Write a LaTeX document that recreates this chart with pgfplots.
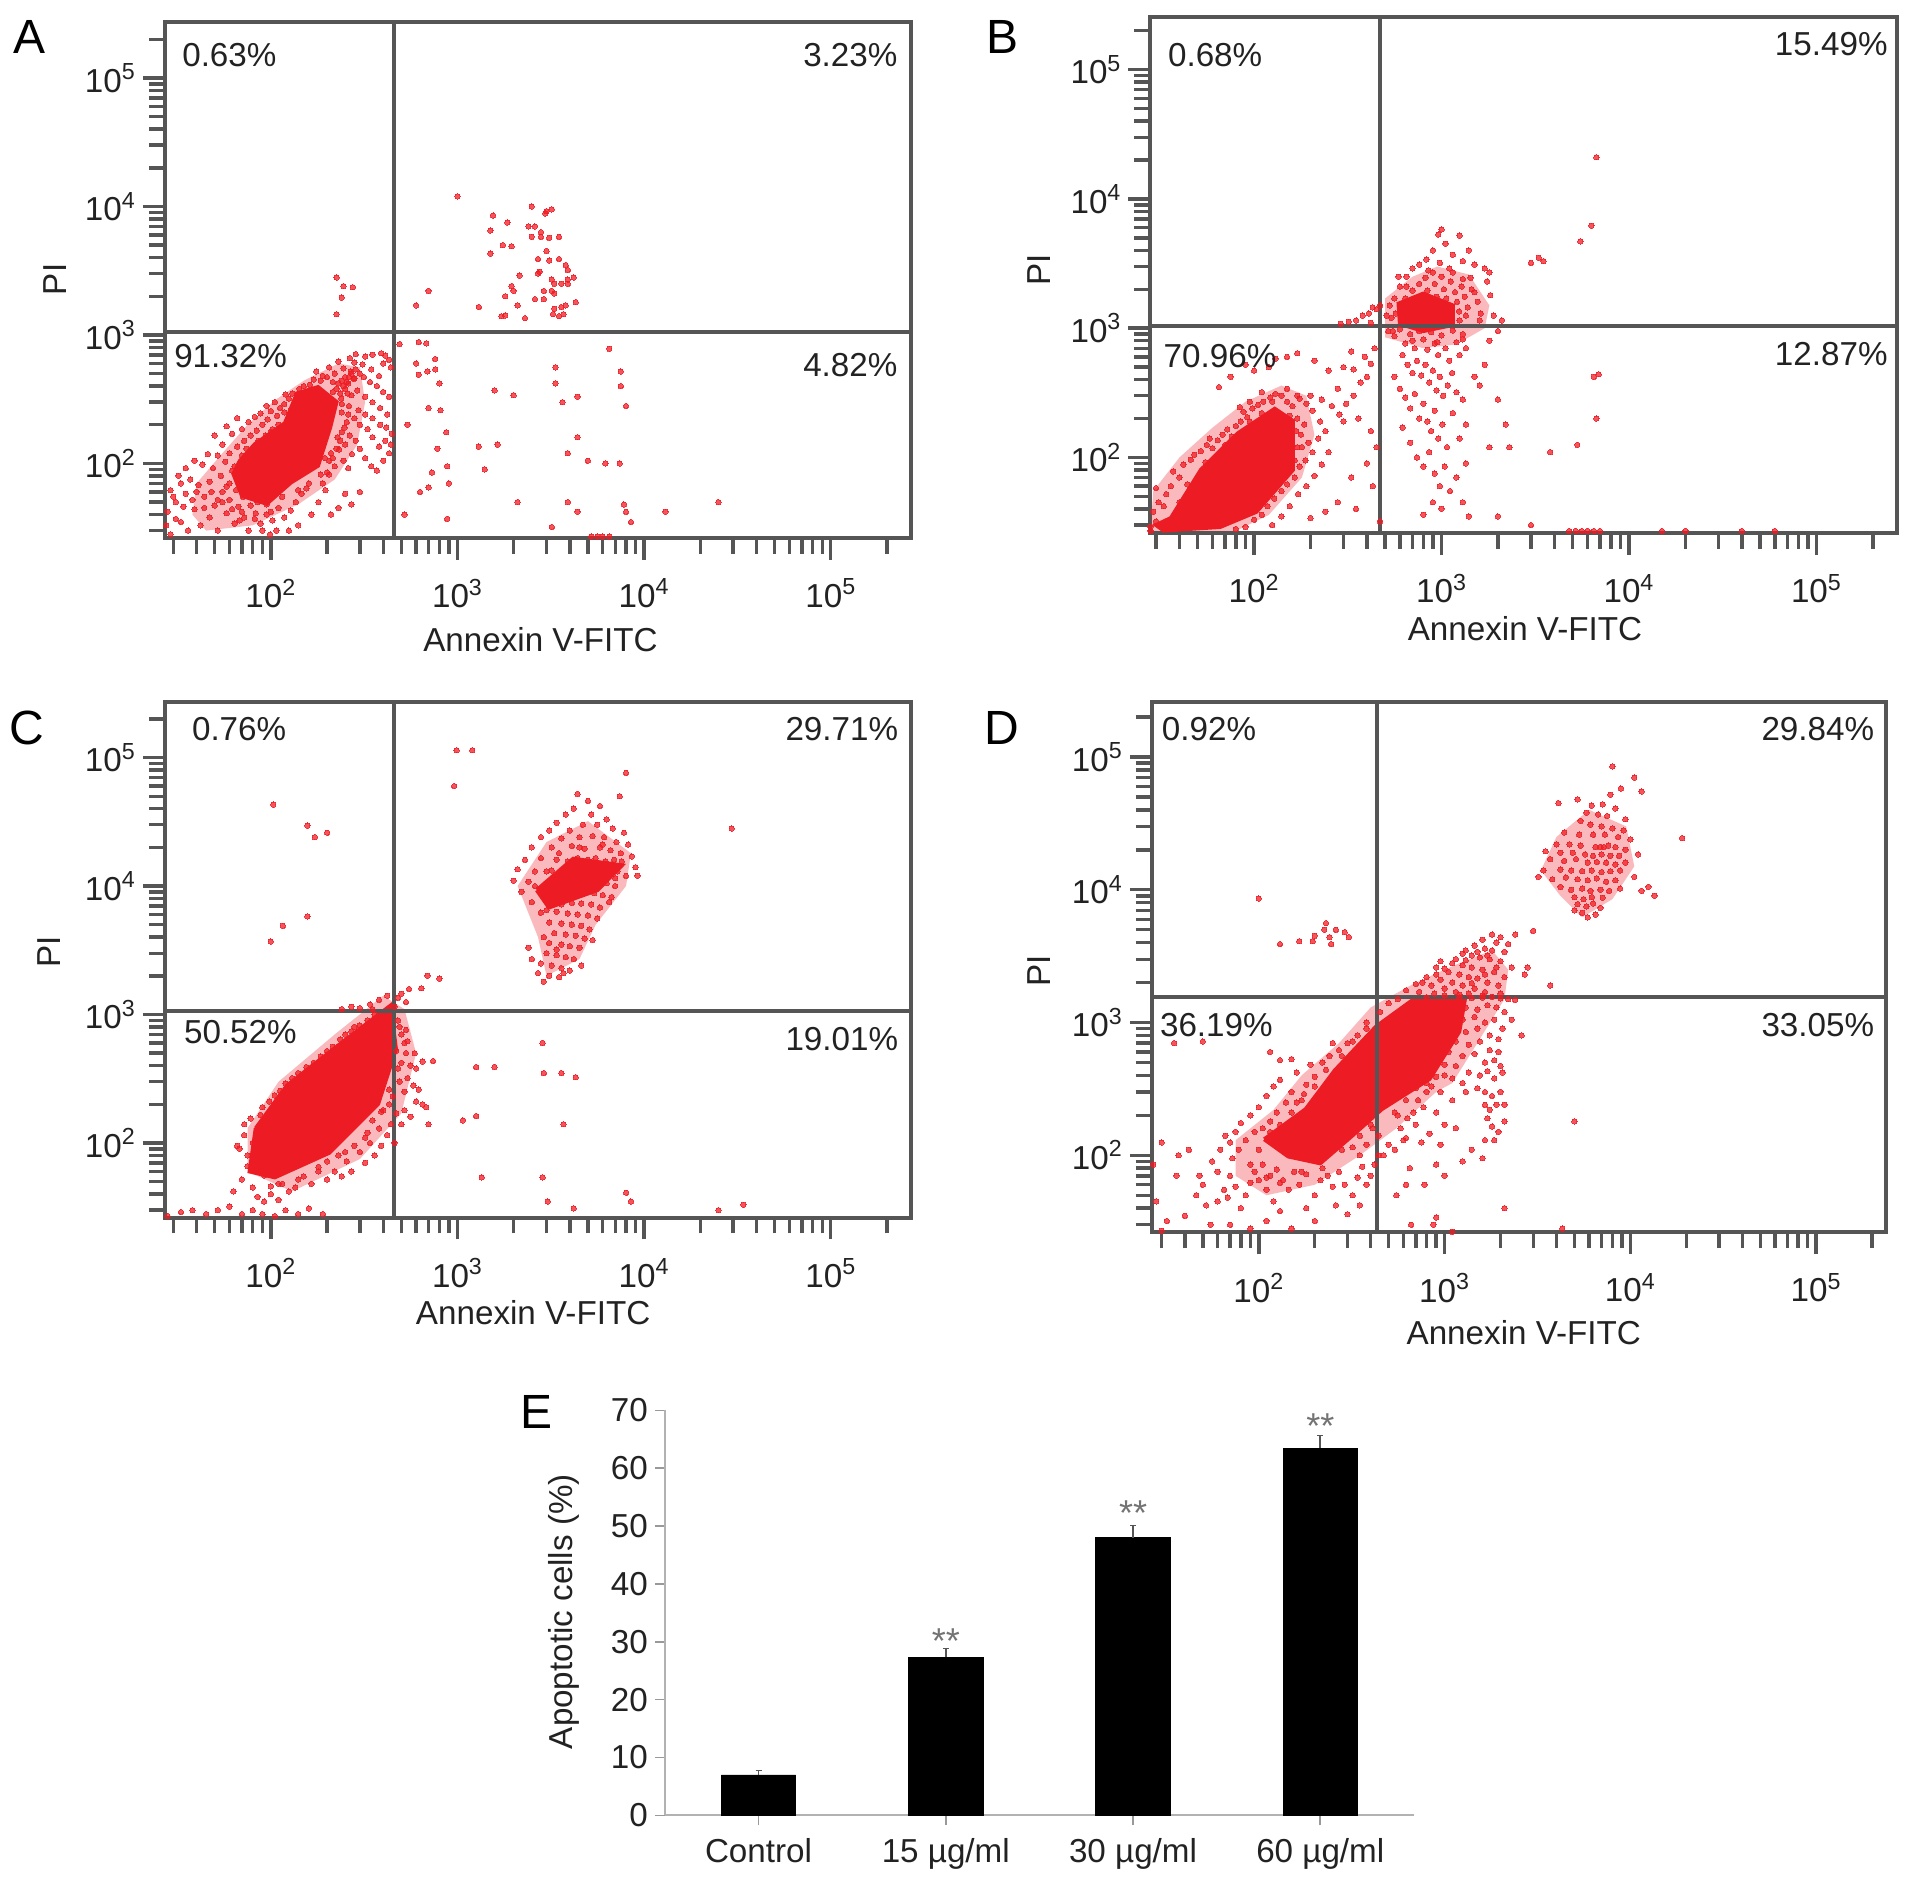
\documentclass[border=0pt]{standalone}
\usepackage{fontspec}
\setmainfont{Liberation Sans}
\usepackage{pgfplots}
\pgfplotsset{compat=1.18}

\definecolor{dotred}{HTML}{ED1C24}
\definecolor{framegray}{HTML}{555555}
\definecolor{inkgray}{HTML}{222222}

\newcommand{\tsize}{\fontsize{16.6}{19}\selectfont}
% text placed in the coordinates of the 1568 px wide view
\newcommand{\lab}[3]{\node[inkgray,font=\tsize,inner sep=0pt] at (#1*0.61pt,-#2*0.61pt) {#3};}
\newcommand{\panel}[3]{\node[black,font=\fontsize{24}{28}\selectfont,inner sep=0pt] at (#1*0.61pt,-#2*0.61pt) {#3};}

\pgfplotsset{
  cytometry axis/.style={
    scale only axis,
    xtick={100,1000,10000,100000},
    ytick={100,1000,10000,100000},
    xticklabels={10\textsuperscript{2},10\textsuperscript{3},10\textsuperscript{4},10\textsuperscript{5}},
    yticklabels={10\textsuperscript{2},10\textsuperscript{3},10\textsuperscript{4},10\textsuperscript{5}},
    minor xtick={30,40,50,60,70,80,90,200,300,400,500,600,700,800,900,2000,3000,4000,5000,6000,7000,8000,9000,20000,30000,40000,50000,60000,70000,80000,90000,200000},
    minor ytick={30,40,50,60,70,80,90,200,300,400,500,600,700,800,900,2000,3000,4000,5000,6000,7000,8000,9000,20000,30000,40000,50000,60000,70000,80000,90000,200000},
    tick align=outside, xtick pos=bottom, ytick pos=left,
    major tick length=11pt, minor tick length=8pt,
    every tick/.style={framegray,line width=1.7pt},
    minor tick style={framegray,line width=1.7pt},
    axis line style={framegray,line width=2pt},
    tick label style={font=\tsize,text=inkgray},
    xticklabel shift=6pt, yticklabel shift=0pt,
  },
  reddots/.style={only marks,mark=*,mark size=1.35pt,color=dotred,
    mark options={draw=dotred,fill=dotred,line width=0pt,opacity=0.75}},
  redhalo/.style={draw=none,fill=dotred,fill opacity=0.3,mark=none},
  redcore/.style={draw=dotred,line width=2pt,fill=dotred,mark=none},
  quadline/.style={framegray,line width=2pt,mark=none},
}

\begin{document}
\begin{tikzpicture}
\useasboundingbox (0pt,0pt) rectangle (956.5pt,-942pt);

% panel A
\begin{loglogaxis}[cytometry axis,at={(82.35pt,-10.98pt)},anchor=north west,width=373.3pt,height=258pt,
  xmin=27, xmax=270000, ymin=26.3, ymax=273000]
\addplot[redhalo] coordinates {(38,40)(40,70)(55,120)(75,200)(105,310)(150,440)(230,600)(300,560)(320,300)(290,140)(220,75)(140,48)(80,33)(45,30)(38,40)};
\addplot[redcore] coordinates {(68,104)(82,141)(119,206)(138,351)(179,393)(225,301)(208,191)(179,96)(128,71)(95,48.5)(70,56)(63,83)(68,104)};
\addplot[reddots] coordinates {
(29,28)(33,35)(28,42)(36,30)(31,50)(39,44)(42,33)(35,58)(29,62)(44,55)(47,38)(52,30)(50,47)(41,68)(37,75)(32,80)
(47,72)(55,60)(58,41)(64,34)(60,52)(67,46)(72,38)(76,30)(54,80)(49,92)(43,98)(60,70)(65,62)(71,55)(78,47)(83,41)
(88,34)(57,103)(62,88)(68,78)(74,68)(52,115)(46,118)(39,105)(35,92)(33,70)(30,55)(95,40)(102,36)(110,45)(118,38)
(128,43)(136,50)(146,58)(155,64)(90,30)(99,28)(107,30)(125,30)(140,33)(165,40)(180,50)(196,62)(210,40)(230,45)
(250,58)(270,48)(300,60)(44,45)(38,52)(34,46)(31,37)(27.5,33)(40,60)(55,50)(62,44)(70,42)(85,50)(95,48)
(60,120)(66,135)(72,150)(55,140)(50,165)(62,170)(70,185)(78,165)(84,180)(90,200)(76,210)(66,225)(58,195)(96,220)
(88,245)(100,255)(108,235)(112,270)(105,300)(118,290)(125,320)(95,280)(82,230)(74,130)(86,150)(94,165)(102,185)
(130,350)(120,345)(190,70)(205,82)(220,95)(215,110)(232,128)(245,105)(260,92)(272,118)(250,140)(265,165)(240,175)
(285,150)(300,130)(320,110)(345,95)(370,88)(400,105)(430,120)(440,140)(410,150)(380,135)(350,160)(330,185)(300,200)
(280,225)(260,240)(295,260)(320,240)(350,225)(385,200)(415,190)(445,170)(420,240)(385,270)(350,300)(320,330)(290,370)
(270,340)(250,380)(235,350)(260,420)(280,460)(300,500)(315,470)(340,430)(370,400)(400,360)(430,330)(380,480)(345,540)
(310,590)(280,610)(245,550)(220,500)(190,480)(170,450)(205,560)(320,680)(350,700)(390,720)(410,690)(430,640)(400,600)
(440,560)(285,710)(265,660)(230,620)(255,430)(262,470)(270,500)(278,455)(268,520)(285,540)(250,470)(240,440)(230,420)
(245,400)(225,380)(215,360)(238,320)(258,350)(240,250)(255,210)(235,150)(225,130)(210,120)(195,110)(200,85)
(52,52)(58,66)(48,60)(64,95)(70,115)(80,125)(92,150)(100,175)(110,200)(118,250)(135,270)(150,300)(162,410)(185,440)
(200,470)(215,430)(240,290)(262,280)(248,190)(228,160)(205,105)(185,82)(160,70)(140,62)(115,55)(100,42)(82,37)(68,36)
(150,400)(175,520)(142,380)(128,260)
(1000,12000)(1550,8500)(1500,6500)(1850,7500)(1750,5000)(1950,4900)(1500,4300)(2500,10000)(3000,9200)(3200,9500)
(2950,8800)(2400,7000)(2600,7000)(2800,6300)(2500,5800)(2800,5800)(3100,5700)(3500,5800)(3000,4500)(2700,3900)
(3100,3800)(3500,3900)(3800,3500)(3900,3200)(2150,2900)(2700,3000)(2750,3100)(3200,2700)(3300,2500)(3600,2500)
(3900,2500)(4200,2800)(3900,2700)(1950,2400)(2000,2200)(2900,2200)(3200,2200)(3300,2100)(1800,2000)(2600,1900)
(2900,1900)(4300,1800)(2100,1700)(3300,1600)(3600,1650)(3800,1700)(1720,1400)(1800,1420)(2300,1350)(3250,1450)
(3500,1400)(3700,1450)(1300,1650)(700,2200)(600,1700)(225,2800)(245,2400)(275,2350)(240,1950)(225,1450)
(490,850)(620,880)(680,860)(600,600)(760,650)(760,540)(690,520)(620,490)(800,420)(1580,370)(2000,340)(3350,560)
(3350,420)(3650,300)(4400,330)(6500,780)(7500,520)(7500,400)(8000,280)(540,200)(700,270)(810,260)(870,175)(1300,135)
(1640,140)(3900,120)(4400,160)(780,130)(880,95)(730,85)(1400,90)(5000,105)(6200,100)(7400,100)(630,60)(520,40)
(700,65)(900,70)(2100,50)(3900,50)(4400,42)(7800,48)(8000,42)(8500,35)(13000,42)(25000,50)(3200,32)(5200,27)
(5600,27)(6000,27)(6500,27)(880,37)};
\addplot[quadline] coordinates {(457,26.3)(457,273000)};
\addplot[quadline] coordinates {(27,1060)(270000,1060)};
\end{loglogaxis}

% panel B
\begin{loglogaxis}[cytometry axis,at={(575.2pt,-8.54pt)},anchor=north west,width=373.3pt,height=258pt,
  xmin=28, xmax=269000, ymin=26, ymax=255000]
\addplot[redhalo] coordinates {(28,27)(29,55)(40,100)(60,170)(90,270)(140,360)(190,300)(210,150)(180,70)(120,36)(80,27)(28,27)};
\addplot[redhalo] coordinates {(500,850)(500,1700)(700,2500)(950,3000)(1400,2600)(1800,1500)(1700,1000)(1200,750)(800,700)(500,850)};
\addplot[redcore] coordinates {(36,34)(52,80)(82,154)(129,238)(161,192)(161,80)(103,38)(66,29)(33,27.2)(30,30)(36,34)};
\addplot[redcore] coordinates {(600,1080)(590,1550)(800,1850)(1150,1500)(1150,1060)(800,950)(600,1080)};
\addplot[reddots] coordinates {
(28,27)(30,32)(29,38)(31,45)(34,52)(30,58)(36,60)(33,42)(38,36)(40,70)(37,78)(42,88)(46,96)(44,62)(48,105)(52,112)
(56,125)(60,118)(64,136)(58,140)(68,150)(72,165)(76,145)(80,175)(85,190)(92,205)(88,225)(98,240)(105,255)(112,270)
(122,290)(130,310)(95,270)(84,245)(110,320)(150,340)(170,300)(170,200)(185,180)(178,150)(195,130)(170,120)(205,110)
(188,95)(175,85)(165,70)(150,62)(140,55)(128,48)(118,42)(110,36)(100,33)(90,29)(80,28)(125,30)(140,35)(155,42)
(172,52)(190,60)(210,72)(230,88)(250,110)(220,140)(240,160)(225,190)(205,230)(190,260)(175,285)(160,250)(150,270)
(200,300)(230,280)(260,250)(285,215)(300,190)(340,300)(310,260)(280,340)(370,380)(400,420)(340,480)(300,500)(250,470)
(210,560)(170,640)(150,600)(130,580)(120,500)(100,470)(90,520)(75,420)(65,350)(390,600)(420,530)(440,700)(330,660)
(360,200)(420,160)(450,120)(400,90)(330,70)(280,45)(240,38)(200,34)(350,40)(430,60)(470,32)(27,36)(32,30)(28,29)
(40,45)(48,55)(55,92)(62,100)(70,125)(82,130)(95,190)(110,220)(125,270)(140,300)(155,210)(168,160)(180,120)(165,95)
(150,80)(135,68)(115,50)(95,40)(75,33)(60,30)(45,36)(1250,1150)(1350,1250)(1450,2000)(1300,2400)(1100,2900)(850,2800)
(650,2100)(550,950)(700,800)(950,780)(1300,820)(1600,1150)
(350,1150)(380,1250)(410,1300)(430,1450)(450,1400)(470,1500)(320,1120)(290,1080)(420,1100)
(540,1200)(570,1300)(600,1450)(620,1150)(640,1700)(660,1500)(680,1250)(700,1950)(720,1600)(740,1350)(760,2200)(780,1800)
(800,1450)(820,2450)(840,1950)(860,1600)(880,1300)(900,2700)(920,2200)(940,1750)(960,1400)(980,3200)(1000,2500)(1030,2000)
(1060,1700)(1090,1400)(1120,2300)(1150,2700)(1180,1900)(1210,1600)(1240,1350)(1280,2100)(1330,1750)(1380,1450)(1430,2450)
(1500,1900)(1560,1600)(1620,1300)(1700,2900)(1750,2300)(1820,1800)(1900,1250)(2100,1150)(600,2100)(650,2500)(700,2900)
(760,3100)(830,3400)(900,4000)(960,5300)(1050,4500)(1150,3700)(1300,3300)(1250,5200)(1400,4000)(1000,5800)(1500,3100)
(1800,2700)(560,1700)(590,2500)(530,1500)(510,1250)(3000,3200)(3300,3500)(3500,3300)(5500,4700)(6300,6200)(6700,21000)
(520,950)(560,870)(600,980)(640,760)(680,900)(720,700)(760,950)(800,820)(840,680)(880,930)(920,760)(960,620)(1000,880)
(1050,700)(1100,560)(1150,960)(1200,780)(1250,620)(1300,900)(1350,700)(620,620)(660,520)(700,450)(740,560)(780,430)
(820,520)(860,380)(900,470)(940,330)(980,420)(1020,300)(1080,360)(1140,450)(1200,320)(1300,280)(1500,420)(1600,360)
(1800,800)(2000,950)(1700,520)(560,420)(600,340)(640,290)(680,240)(720,310)(760,200)(800,260)(840,190)(880,160)(920,230)
(960,140)(1010,180)(1070,120)(1150,220)(1250,140)(1350,180)(620,170)(680,130)(740,100)(800,85)(860,110)(920,75)(980,60)
(1040,85)(1110,55)(1200,70)(1300,45)(1400,35)(1000,40)(900,45)(800,36)(2000,35)(1350,90)(1800,120)(2300,120)(2000,280)
(2200,180)(3000,30)(4800,27)(5200,27)(5600,27)(6000,27)(6500,27)(7000,27)(3800,110)(5300,125)(6500,420)(6900,440)
(6700,200)(15000,27)(20000,27)(40000,27)(60000,27)};
\addplot[quadline] coordinates {(468,26)(468,255000)};
\addplot[quadline] coordinates {(28,1045)(269000,1045)};
\end{loglogaxis}

% panel C
\begin{loglogaxis}[cytometry axis,at={(82.35pt,-350.75pt)},anchor=north west,width=373.3pt,height=258pt,
  xmin=27, xmax=270000, ymin=26.3, ymax=273000]
\addplot[redhalo] coordinates {(75,60)(75,130)(110,300)(220,700)(400,1400)(520,1100)(600,500)(500,170)(300,75)(130,42)(75,60)};
\addplot[redhalo] coordinates {(2100,10000)(3000,22000)(5000,32000)(8500,18000)(8000,10000)(5500,5000)(4500,2700)(3000,2000)(2700,4000)(2100,10000)};
\addplot[redcore] coordinates {(83,130)(122,280)(240,603)(437,1170)(468,540)(376,202)(206,84)(105,54)(77,60)(83,130)};
\addplot[redcore] coordinates {(2660,9300)(4170,16300)(7600,14500)(5620,9300)(3090,6800)(2660,9300)};
\addplot[reddots] coordinates {
(28,27)(33,29)(38,30)(45,28)(52,30)(60,32)(70,28)(80,30)(90,28)(105,27)(120,30)(140,28)(160,31)(190,28)(63,42)(70,52)
(75,66)(80,45)(85,38)(92,35)(100,40)(110,36)(125,42)(75,80)(68,90)(80,100)(72,115)(66,95)(84,72)(92,56)(100,46)(115,48)
(135,45)(150,55)(165,48)(180,60)(200,52)(220,60)(240,55)(200,72)(230,80)(255,72)(280,95)(300,85)(270,60)(320,70)(340,100)
(360,80)(390,95)(420,115)(440,140)(460,100)(380,130)(330,120)(350,150)(400,180)(430,200)(450,230)(470,170)(500,140)(520,180)
(560,160)(600,210)(520,250)(490,300)(540,320)(580,280)(620,260)(650,200)(680,190)(700,140)(560,400)(600,380)(500,420)(530,500)
(470,520)(500,700)(540,620)(590,500)(650,430)(480,900)(530,760)(72,140)(78,155)(88,165)(90,190)(98,210)(105,235)(112,255)
(120,290)(130,320)(140,350)(155,390)(170,420)(185,470)(200,520)(215,560)(235,640)(250,700)(270,740)(300,820)(330,900)(360,1000)
(240,1100)(270,1150)(300,1120)(340,1200)(380,1300)(420,1400)(460,1150)(480,1350)(530,1250)(640,1600)(800,1900)
(90,85)(95,150)(105,200)(130,250)(150,330)(185,400)(230,560)(280,800)(350,1100)(400,900)(490,800)(520,600)(480,380)(430,260)
(390,175)(320,110)(250,85)(180,65)(140,52)(110,48)(3000,13000)(2600,10000)(3500,18000)(4500,20000)(6000,21000)(7500,18000)
(7000,11500)(6500,7500)(3000,6500)(2900,4000)(3400,3200)
(2860,600)(2900,350)(3600,350)(4300,325)(3700,140)(1350,54)(2860,54)(3050,35)(4200,31)(8000,41)(8500,35)(25000,30)(34000,33)
(740,435)(1260,390)(1580,390)(1260,162)(1070,150)
(103,43000)(157,29500)(172,24000)(200,26000)(157,5800)(116,4900)(100,3700)(990,114000)(1200,114000)(960,60000)(29500,28000)
(8000,76000)(690,2000)(550,1580)(500,1450)
(4400,52000)(5000,46000)(5800,42000)(4200,40000)(3800,36000)(5200,36000)(6300,33000)(7400,50000)(3400,31000)(4700,30000)
(5600,30000)(6800,28000)(3100,27000)(4000,27000)(7800,26000)(2800,24000)(3600,23500)(4500,24000)(5300,24500)(6100,24000)
(7100,22000)(8200,21000)(2500,20000)(3200,20000)(4100,20500)(4800,19500)(5800,20000)(6600,19000)(8600,17000)(9000,14000)
(2300,16000)(2800,16500)(3400,16000)(3900,15500)(4400,16500)(5000,16000)(5500,16500)(6200,15500)(6900,16000)(7600,15500)
(2100,13500)(2600,13000)(3200,13200)(3700,13000)(4200,12500)(4800,13000)(5300,12800)(5900,13500)(6500,13000)(7200,13000)
(8000,12000)(9200,12000)(2000,11000)(2400,10800)(3000,10500)(3500,11000)(4000,10800)(4500,10500)(5000,10800)(5600,11000)
(6300,10500)(7000,10000)(2200,9000)(2800,9000)(3300,9200)(3800,9000)(4300,8800)(4900,9000)(5400,8800)(6000,8500)(6700,8200)
(2500,7500)(3100,7500)(3600,7200)(4100,7400)(4600,7300)(5200,7200)(5800,6800)(2800,6200)(3400,6300)(3900,6100)(4400,6000)
(5000,5900)(5600,5600)(3100,5200)(3600,5100)(4100,5000)(4600,4900)(5100,4600)(3300,4300)(3800,4200)(4300,4100)(4800,3900)
(5300,3800)(3100,3600)(3600,3500)(4000,3400)(4500,3300)(3000,3000)(3400,2900)(3800,2800)(4200,2700)(2800,2500)(3200,2400)
(3600,2300)(4000,2200)(2700,2100)(3100,2000)(2900,1800)(3500,1950)(3700,2100)(4600,2400)(2500,2700)(2400,3300)};
\addplot[quadline] coordinates {(457,26.3)(457,273000)};
\addplot[quadline] coordinates {(27,1060)(270000,1060)};
\end{loglogaxis}

% panel D
\begin{loglogaxis}[cytometry axis,at={(575.84pt,-350.75pt)},anchor=north west,width=367.2pt,height=265.4pt,
  xmin=26.5, xmax=238000, ymin=26.3, ymax=262000]
\addplot[redhalo] coordinates {(75,70)(75,130)(120,220)(170,400)(270,700)(400,1300)(700,2000)(1200,2800)(1800,3500)(2200,2500)(2100,1500)(1500,700)(1100,350)(900,300)(550,160)(350,100)(200,60)(110,50)(75,70)};
\addplot[redhalo] coordinates {(3300,14000)(4000,25000)(6000,40000)(9500,30000)(10500,15000)(8000,8500)(5500,6200)(4200,9000)(3300,14000)};
\addplot[redcore] coordinates {(107,132)(179,223)(257,437)(427,930)(661,1450)(1288,1510)(1200,855)(830,376)(460,223)(321,142)(214,87)(144,98)(107,132)};
\addplot[reddots] coordinates {
(8000,85000)(10500,70000)(8900,58000)(7800,52000)(11500,55000)(5200,48000)(4100,45000)(6200,43000)(7100,44000)(8300,41000)
(5800,38000)(6700,37000)(7500,36000)(9400,34000)(5400,33000)(6100,31000)(7000,30000)(8000,29000)(9200,28000)(4400,27000)
(5300,26000)(6300,26000)(7300,26000)(8600,25000)(10000,24000)(4000,22000)(4700,22000)(5400,21500)(6500,21000)(6900,21000)
(7200,21000)(7600,21500)(8300,21000)(9400,20000)(3500,19500)(4200,19000)(4900,19000)(5700,18500)(6300,18000)(7000,18500)
(7800,18000)(8700,18000)(11000,18500)(3700,17000)(4400,16500)(5100,17000)(5900,16000)(6600,16200)(7400,16000)(8300,15500)
(9400,16000)(3400,14000)(4200,14200)(4800,14000)(5500,13800)(6200,14000)(7000,13600)(7800,13800)(8800,14000)(3200,12500)
(3800,12000)(4500,12400)(5200,12000)(5900,11800)(6600,12200)(7400,11500)(8300,11800)(10500,12500)(11500,9800)(12500,10500)
(13500,9000)(4200,10500)(4800,10000)(5500,10200)(6100,9800)(6900,10000)(7700,9800)(8800,10200)(5000,8800)(5600,8500)
(6200,8800)(7100,8700)(5200,7800)(5800,7500)(6300,7900)(6900,7300)(5000,7000)(5500,6700)(5900,6200)(6500,6500)(19000,24500)
(1800,4600)(2000,4400)(2400,4600)(1600,4200)(1900,4000)(2200,3900)(1450,3800)(1650,3600)(1800,3500)(2100,3400)(1250,3300)
(1400,3200)(1550,3100)(1750,3000)(2000,2900)(2300,2600)(1100,2800)(1250,2700)(1400,2600)(1600,2500)(1850,2400)(900,2600)
(1050,2400)(1200,2300)(1350,2200)(1500,2150)(1700,2000)(1950,1900)(800,2200)(950,2100)(1100,2000)(1250,1900)(1450,1800)
(1650,1700)(700,1950)(850,1900)(1000,1800)(1150,1700)(1350,1650)(1600,1600)(2000,1650)(730,1700)(880,1650)(1000,1600)
(760,2000)(900,2300)(1000,2550)(1150,3000)(1300,2950)(1500,3400)(1700,3200)(1900,2600)(2100,2200)(3000,4900)(2800,2600)
(2700,2300)(3700,1900)(1200,1620)(1400,1980)(1650,2300)(1400,1530)(1600,1540)(1800,1560)(2000,1520)(2200,1500)(2400,1480)(1200,1550)
(1300,1300)(1500,1250)(1700,1350)(1900,1300)(2100,1200)(2300,1050)(2600,800)(1250,1050)(1450,1100)(1650,1000)(1850,1050)
(2050,900)(1300,850)(1500,900)(1750,800)(1950,750)(1150,720)(1350,680)(1550,720)(1750,620)(1950,600)(1050,600)(1250,560)
(1450,580)(1650,500)(1850,520)(2000,470)(1000,480)(1150,470)(1350,420)(1550,400)(1700,430)(1850,380)(2050,420)(1100,380)
(1250,350)(1500,320)(1650,300)(1800,280)(2000,300)(1900,240)(1650,240)(1750,220)(2100,240)(1700,190)(1800,165)(1950,150)
(2100,180)(1650,130)(1850,130)(1300,300)(1100,260)(950,300)(850,330)(900,210)(1000,170)(1150,160)(1400,110)(1600,95)(1250,90)
(950,120)(830,145)(700,170)(750,125)(620,135)(900,85)(1000,70)(780,60)(650,80)(550,50)(620,60)(2100,40)(5000,180)(4300,28)
(660,30)(900,34)(870,30)(1100,26.5)
(30,125)(27,85)(36,70)(37,100)(42,110)(48,70)(50,60)(46,50)(52,42)(60,45)(65,55)(60,75)(56,90)(62,110)(70,125)(66,140)(75,150)
(80,175)(90,200)(100,230)(110,280)(120,330)(130,370)(150,300)(140,250)(125,210)(115,180)(105,160)(95,150)(85,130)(78,110)
(72,95)(70,70)(75,58)(68,48)(80,40)(85,50)(90,62)(95,75)(105,85)(100,65)(110,55)(115,70)(125,78)(135,65)(145,55)(120,45)
(130,38)(155,75)(165,60)(180,72)(200,50)(215,65)(235,70)(250,58)(270,75)(290,60)(320,50)(340,68)(360,82)(380,60)(400,70)
(420,85)(440,100)(350,42)(260,42)(180,40)(28,45)(32,32)(40,35)(55,30)(70,30)(90,28)(110,32)(30,27)(150,28)(300,36)(200,32)
(170,260)(180,340)(200,390)(160,420)(190,480)(220,500)(240,560)(270,620)(300,700)(340,800)(380,900)(150,530)(130,520)(115,600)
(35,700)(50,720)(250,700)(160,250)(210,170)(235,140)(260,125)(290,150)(320,115)(350,100)(380,120)(410,160)(440,140)(470,100)
(500,120)(540,110)(580,160)(630,190)(600,130)(680,210)(720,260)(770,230)(800,300)(560,200)
(90,85)(100,110)(115,150)(130,170)(150,210)(175,290)(200,330)(230,440)(280,560)(320,720)(380,1000)(450,1200)(560,1500)(620,1750)
(500,1400)(700,1300)(800,1550)(540,210)(620,260)(700,320)(800,350)(900,390)(1000,400)(400,170)(350,140)(280,110)(220,80)(170,75)
(130,62)(110,68)(950,2900)(1300,3500)
(100,8600)(130,3900)(165,4100)(195,4100)(200,4500)(225,5000)(240,4400)(260,5000)(290,4800)(305,4400)(230,5600)(245,3900)};
\addplot[quadline] coordinates {(435,26.3)(435,262000)};
\addplot[quadline] coordinates {(26.5,1570)(238000,1570)};
\end{loglogaxis}

% panel E
\begin{axis}[at={(332.45pt,-705.2pt)},anchor=north west,scale only axis,width=374.5pt,height=202.5pt,
  xmin=-0.5,xmax=3.5,ymin=0,ymax=70,ytick={0,10,...,70},xtick={0,1,2,3},
  xticklabels={Control,15 µg/ml,30 µg/ml,60 µg/ml},
  /pgf/number format/assume math mode=true,
  axis lines=left,axis line style={-,color=black!30,line width=1pt},
  tick align=outside,major tick length=5pt,every tick/.style={black!40,line width=0.8pt},
  tick label style={font=\tsize,text=inkgray},
  xticklabel shift=3pt, yticklabel shift=0pt,
  ybar,bar width=37.2pt,clip=false]
\addplot[fill=black,draw=black,error bars/.cd,y dir=plus,y explicit,
  error bar style={color=framegray,line width=0.8pt},error mark options={rotate=90,mark size=1.5pt,color=framegray}]
  coordinates {(0,7) +- (0,0.8) (1,27.3) +- (0,1.5) (2,48) +- (0,2.2) (3,63.5) +- (0,2.2)};
\node[text=black!55,font=\fontsize{18}{19}\selectfont] at (axis cs:1,30.2) {**};
\node[text=black!55,font=\fontsize{18}{19}\selectfont] at (axis cs:2,52.2) {**};
\node[text=black!55,font=\fontsize{18}{19}\selectfont] at (axis cs:3,67.3) {**};
\end{axis}

\panel{24}{30}{A}\panel{822}{30}{B}\panel{22}{597}{C}\panel{821}{597}{D}\panel{440}{1157}{E}

\lab{188}{45}{0.63\%}\lab{697}{45}{3.23\%}\lab{189}{292}{91.32\%}\lab{697}{299}{4.82\%}
\lab{996}{45}{0.68\%}\lab{1501}{36}{15.49\%}\lab{1000}{292}{70.96\%}\lab{1501}{290}{12.87\%}
\lab{196}{598}{0.76\%}\lab{690}{598}{29.71\%}\lab{197}{846}{50.52\%}\lab{690}{852}{19.01\%}
\lab{991}{598}{0.92\%}\lab{1490}{598}{29.84\%}\lab{997}{840}{36.19\%}\lab{1490}{840}{33.05\%}

\lab{443}{524}{Annexin V-FITC}\lab{1250}{515}{Annexin V-FITC}\lab{437}{1076}{Annexin V-FITC}\lab{1249}{1092}{Annexin V-FITC}
\node[inkgray,font=\tsize,inner sep=0pt,rotate=90] at (45*0.61pt,-229*0.61pt) {PI};
\node[inkgray,font=\tsize,inner sep=0pt,rotate=90] at (852*0.61pt,-221*0.61pt) {PI};
\node[inkgray,font=\tsize,inner sep=0pt,rotate=90] at (40*0.61pt,-780*0.61pt) {PI};
\node[inkgray,font=\tsize,inner sep=0pt,rotate=90] at (852*0.61pt,-796*0.61pt) {PI};
\node[inkgray,font=\tsize,inner sep=0pt,rotate=90] at (462*0.61pt,-1321*0.61pt) {Apoptotic cells (\%)};
\end{tikzpicture}
\end{document}
